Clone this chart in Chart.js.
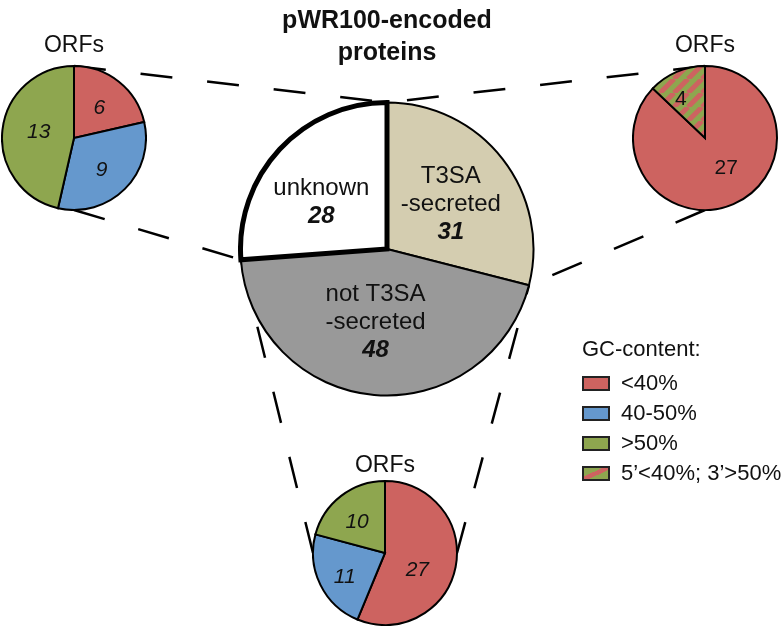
<!DOCTYPE html>
<html lang="en">
<head>
<meta charset="UTF-8">
<title>pWR100-encoded proteins</title>
<script src="https://cdn.jsdelivr.net/npm/chart.js@4"></script>
<style>
*{box-sizing:border-box}
body{margin:0;background:#fff;font-family:"Liberation Sans",Arial,sans-serif;color:#111}
#stage{position:relative;width:783px;height:628px;overflow:hidden}
#stage canvas,#stage .txt{position:absolute}
#links{left:0;top:0;z-index:0}
.pie{z-index:1}
.txt{z-index:2;white-space:nowrap;line-height:1}
.title{left:387px;top:3px;transform:translateX(-50%);text-align:center;font-weight:700;font-size:25px;line-height:32px}
.orfs{font-size:23px;transform:translate(-50%,-50%)}
.legend{left:582px;top:338px;font-size:22px}
.legend .head{height:30px}
.legend .row{display:flex;align-items:center;height:30px}
.legend .box{width:28px;height:15px;border:2.5px solid #222;margin-right:11px}
</style>
</head>
<body>
<div id="stage">
  <canvas id="links" width="783" height="628"></canvas>
  <div class="txt title">pWR100-encoded<br>proteins</div>
  <div class="txt orfs" style="left:74px;top:44px">ORFs</div>
  <div class="txt orfs" style="left:705px;top:44px">ORFs</div>
  <div class="txt orfs" style="left:385px;top:464px">ORFs</div>
  <canvas class="pie" id="pie-main" width="298" height="298" style="left:238px;top:100px"></canvas>
  <canvas class="pie" id="pie-unknown" width="146" height="146" style="left:1px;top:65px"></canvas>
  <canvas class="pie" id="pie-t3sa" width="146" height="146" style="left:632px;top:65px"></canvas>
  <canvas class="pie" id="pie-not" width="146" height="146" style="left:312px;top:480px"></canvas>
  <div class="txt legend" id="legend"></div>
</div>
<script>
// main pie: pWR100-encoded proteins
const MAIN_LABELS = [['T3SA', '-secreted'], ['not T3SA', '-secreted'], ['unknown']];
const MAIN_VALUES = [31, 48, 28];

// ORFs by GC-content for each group
const UNKNOWN_VALUES = [6, 9, 13];        // <40%, 40-50%, >50%
const T3SA_VALUES = [27, 4];              // <40%, 5'<40%; 3'>50%
const NOT_T3SA_VALUES = [27, 11, 10];     // <40%, 40-50%, >50%

const GC_LABELS = ['<40%', '40-50%', '>50%', '5\u2019<40%; 3\u2019>50%'];

const RED = '#cd6360', BLUE = '#6598cd', GREEN = '#8ea64f';
const TAN = '#d4cdb0', GREY = '#999999';
const FONT = '"Liberation Sans", Arial, sans-serif';

function stripes(base, stripe) {
  const c = document.createElement('canvas');
  c.width = c.height = 14;
  const g = c.getContext('2d');
  g.fillStyle = base;
  g.fillRect(0, 0, 14, 14);
  g.strokeStyle = stripe;
  g.lineWidth = 5;
  g.beginPath();
  for (const o of [-14, 0, 14]) { g.moveTo(o, 14); g.lineTo(o + 14, 0); }
  g.stroke();
  return g.createPattern(c, 'repeat');
}

// draws the numbers (and names) inside the slices
const sliceLabels = {
  id: 'sliceLabels',
  afterDatasetsDraw(chart, args, opts) {
    const ctx = chart.ctx;
    const values = chart.data.datasets[0].data;
    chart.getDatasetMeta(0).data.forEach((arc, i) => {
      const p = arc.getProps(['x', 'y', 'startAngle', 'endAngle', 'outerRadius'], true);
      const mid = (p.startAngle + p.endAngle) / 2;
      const r = p.outerRadius * opts.radius;
      const nudge = (opts.nudge && opts.nudge[i]) || [0, 0];
      const cx = p.x + Math.cos(mid) * r + nudge[0];
      const cy = p.y + Math.sin(mid) * r + nudge[1];
      const lines = (opts.names ? opts.names[i].map(t => [t, opts.nameFont]) : []).concat([[String(values[i]), opts.valueFont]]);
      const top = cy - (lines.length - 1) * opts.lineHeight / 2;
      ctx.save();
      ctx.fillStyle = '#111';
      ctx.textAlign = 'center';
      ctx.textBaseline = 'middle';
      lines.forEach(([t, f], k) => { ctx.font = f; ctx.fillText(t, cx, top + k * opts.lineHeight); });
      ctx.restore();
    });
  }
};

function pie(id, values, colors, widths, labelOpts) {
  return new Chart(document.getElementById(id), {
    type: 'pie',
    data: { labels: values.map(String), datasets: [{ data: values, backgroundColor: colors, borderColor: '#000', borderWidth: widths, borderJoinStyle: 'miter' }] },
    options: {
      responsive: false, animation: false, events: [],
      plugins: { legend: { display: false }, tooltip: { enabled: false }, sliceLabels: labelOpts }
    },
    plugins: [sliceLabels]
  });
}

const mainChart = pie('pie-main', MAIN_VALUES, [TAN, GREY, '#ffffff'], [2, 2, 5], {
  radius: 0.5, lineHeight: 28, names: MAIN_LABELS,
  nameFont: '24px ' + FONT, valueFont: 'italic bold 24px ' + FONT,
  nudge: [[6, 0], [-5, 0], [-12, 3]]
});
const unknownChart = pie('pie-unknown', UNKNOWN_VALUES, [RED, BLUE, GREEN], 2, {
  radius: 0.52, lineHeight: 0, valueFont: 'italic 21px ' + FONT, nudge: [[2, -1], [1, 6], [2, -2]]
});
const t3saChart = pie('pie-t3sa', T3SA_VALUES, [RED, stripes(GREEN, RED)], 2, {
  radius: 0.5, lineHeight: 0, valueFont: '21px ' + FONT, nudge: [[7, -3], [-10, -6]]
});
const notChart = pie('pie-not', NOT_T3SA_VALUES, [RED, BLUE, GREEN], 2, {
  radius: 0.5, lineHeight: 0, valueFont: 'italic 21px ' + FONT, nudge: [[-3, 10], [-8, 8], [-6, -2]]
});

// dashed connectors between a slice of the main pie and its breakdown pie
function offset(chart) { const c = chart.canvas; return [c.offsetLeft, c.offsetTop]; }
function sliceEdge(chart, i, which) {
  const p = chart.getDatasetMeta(0).data[i].getProps(['x', 'y', 'startAngle', 'endAngle', 'outerRadius'], true);
  const a = which === 'start' ? p.startAngle : p.endAngle;
  const [ox, oy] = offset(chart);
  return [ox + p.x + Math.cos(a) * p.outerRadius, oy + p.y + Math.sin(a) * p.outerRadius];
}
function rim(chart, angle) {
  const p = chart.getDatasetMeta(0).data[0].getProps(['x', 'y', 'outerRadius'], true);
  const [ox, oy] = offset(chart);
  return [ox + p.x + Math.cos(angle) * p.outerRadius, oy + p.y + Math.sin(angle) * p.outerRadius];
}
const UP = -Math.PI / 2, DOWN = Math.PI / 2;
const links = [
  [rim(unknownChart, UP), sliceEdge(mainChart, 2, 'end')],
  [rim(unknownChart, DOWN), sliceEdge(mainChart, 2, 'start')],
  [rim(t3saChart, UP), sliceEdge(mainChart, 0, 'start')],
  [rim(t3saChart, DOWN), sliceEdge(mainChart, 0, 'end')],
  [rim(notChart, 0), sliceEdge(mainChart, 1, 'start')],
  [rim(notChart, Math.PI), sliceEdge(mainChart, 1, 'end')]
];
const lctx = document.getElementById('links').getContext('2d');
lctx.strokeStyle = '#000';
lctx.lineWidth = 2.5;
lctx.setLineDash([32, 35]);
for (const [a, b] of links) {
  lctx.beginPath();
  lctx.moveTo(a[0], a[1]);
  lctx.lineTo(b[0], b[1]);
  lctx.stroke();
}

// legend
const GC_FILLS = [RED, BLUE, GREEN, `linear-gradient(to bottom right, ${GREEN} 0 38%, ${RED} 38% 60%, ${GREEN} 60%)`];
document.getElementById('legend').innerHTML = '<div class="head">GC-content:</div>' +
  GC_LABELS.map((t, i) => '<div class="row"><span class="box" style="background:' + GC_FILLS[i] + '"></span>' + t + '</div>').join('');
</script>
</body>
</html>
